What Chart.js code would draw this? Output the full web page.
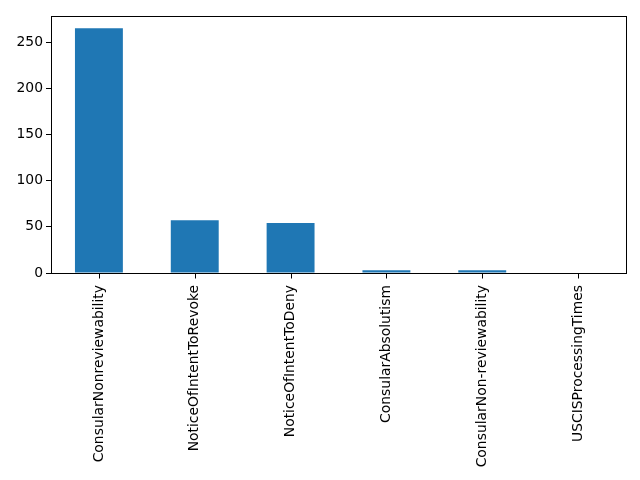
<!DOCTYPE html>
<html>
<head>
<meta charset="utf-8">
<script src="https://cdn.jsdelivr.net/npm/chart.js@4/dist/chart.umd.min.js"></script>
<style>
html,body{margin:0;padding:0;background:#fff;}
#wrap{width:640px;height:480px;}
</style>
</head>
<body>
<div id="wrap"><canvas id="c" width="640" height="480"></canvas></div>
<script>
const categories = ["ConsularNonreviewability","NoticeOfIntentToRevoke","NoticeOfIntentToDeny","ConsularAbsolutism","ConsularNon-reviewability","USCISProcessingTimes"];
const counts = [265, 57, 54, 3, 3, 0];
const yTicks = [0, 50, 100, 150, 200, 250];

const frame = {
  id: 'frame',
  afterDraw(chart) {
    const a = chart.chartArea, ctx = chart.ctx;
    ctx.save();
    ctx.strokeStyle = '#000';
    ctx.lineWidth = 1;
    ctx.strokeRect(Math.round(a.left)+0.5, Math.round(a.top)+0.5, Math.round(a.right-a.left), Math.round(a.bottom-a.top));
    const xs = chart.scales.x;
    const yb = Math.round(a.bottom) + 0.5;
    ctx.beginPath();
    for (let i = 0; i < categories.length; i++) {
      const px = Math.round(xs.getPixelForTick(i)) + 0.5;
      ctx.moveTo(px, yb);
      ctx.lineTo(px, yb + 5);
    }
    ctx.stroke();
    ctx.restore();
  }
};

const font = {family: 'DejaVu Sans', size: 13.9};
new Chart(document.getElementById('c'), {
  type: 'bar',
  data: {
    labels: categories,
    datasets: [{data: counts, backgroundColor: '#1f77b4', borderWidth: 0, categoryPercentage: 1, barPercentage: 0.5, inflateAmount: 0}]
  },
  options: {
    responsive: false,
    animation: false,
    devicePixelRatio: 1,
    layout: {padding: {top: 16, right: 14, left: 0, bottom: 0}},
    plugins: {legend: {display: false}, tooltip: {enabled: false}},
    scales: {
      x: {
        grid: {display: false},
        border: {display: false},
        ticks: {color: '#000', font: font, maxRotation: 90, minRotation: 90, padding: 4, autoSkip: false},
        afterFit(s) { s.height = 207; }
      },
      y: {
        min: 0,
        max: Math.max(...counts) * 1.05,
        grid: {display: true, drawOnChartArea: false, drawTicks: true, tickLength: 5, color: '#000'},
        border: {display: true, color: '#000'},
        ticks: {color: '#000', font: font, padding: 3,
          callback: (v) => v},
        afterBuildTicks(s) { s.ticks = yTicks.map(v => ({value: v})); },
        afterFit(s) { s.width = 51; }
      }
    }
  },
  plugins: [frame]
});
</script>
</body>
</html>
